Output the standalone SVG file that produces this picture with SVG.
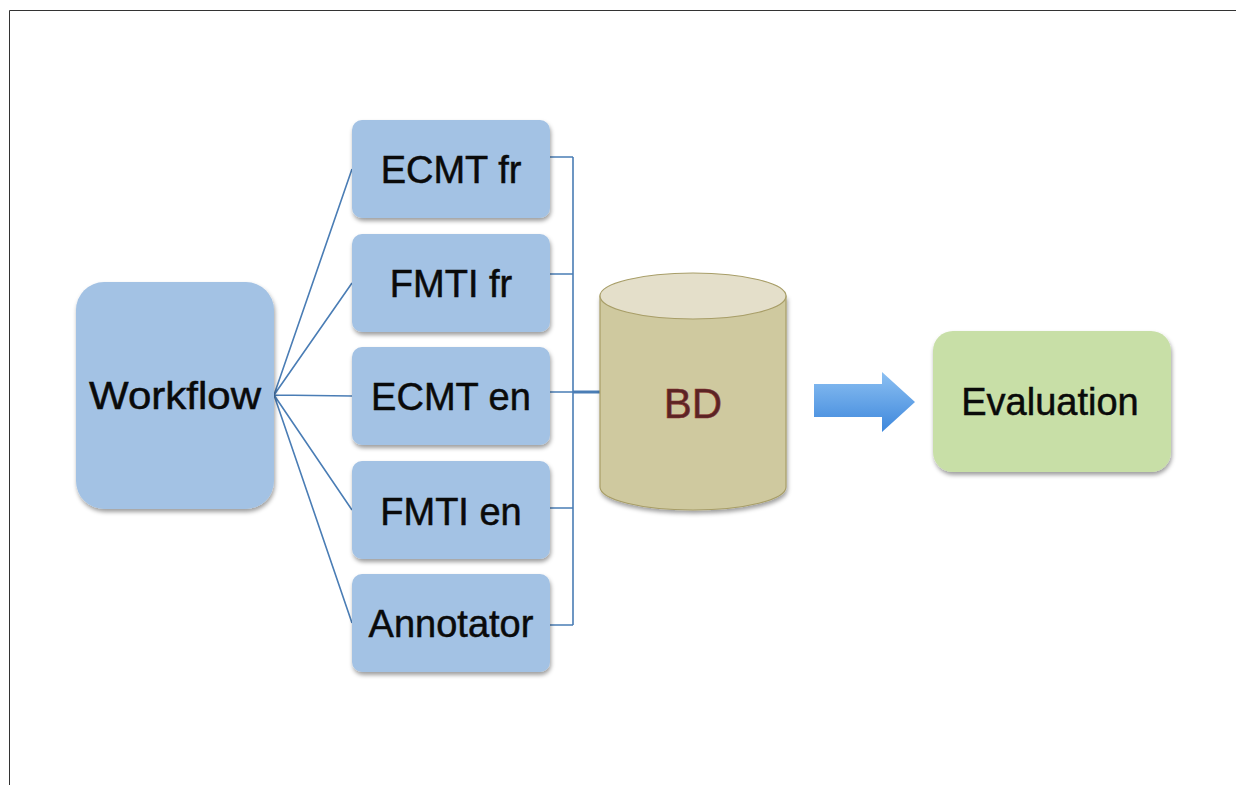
<svg xmlns="http://www.w3.org/2000/svg" width="1236" height="785" viewBox="0 0 1236 785">
  <defs>
    <filter id="sh" x="-10%" y="-10%" width="125%" height="130%">
      <feDropShadow dx="1" dy="3" stdDeviation="2" flood-color="#000" flood-opacity="0.38"/>
    </filter>
    <linearGradient id="arrowGrad" x1="0" y1="0" x2="0" y2="1">
      <stop offset="0" stop-color="#8cc0f2"/>
      <stop offset="1" stop-color="#3d87dc"/>
    </linearGradient>
    <style>
      .box { fill: #a3c2e4; filter: url(#sh); }
      .lbl { font-family: "Liberation Sans", Arial, sans-serif; font-size: 38px; fill: #0a0a0a; stroke: #0a0a0a; stroke-width: 0.5px; text-anchor: middle; }
      .conn { fill: none; stroke: #4a7db5; stroke-width: 1.6; }
    </style>
  </defs>
  <rect x="0" y="0" width="1236" height="785" fill="#fff"/>
  <path d="M9.5 785 V10.5 H1236" fill="none" stroke="#333" stroke-width="1"/>

  <g id="connectors">
    <path class="conn" d="M274 395 L352 169 M274 395 L352 283 M274 395 L352 396 M274 395 L352 510 M274 395 L352 623"/>
    <path class="conn" d="M550 157 H573 M550 274 H573 M550 392 H573 M550 508 H573 M550 625 H573 M573 157 V625"/>
    <path d="M573 392 H600" fill="none" stroke="#4a7db5" stroke-width="3"/>
    <path d="M814 384 H882 V372 L915 402 L882 432 V417 H814 Z" fill="url(#arrowGrad)"/>
  </g>

  <g id="workflow">
    <rect class="box" x="76" y="282" width="198" height="227" rx="28"/>
    <text class="lbl" x="175" y="409" textLength="172" lengthAdjust="spacingAndGlyphs">Workflow</text>
  </g>
  <g id="ecmt-fr">
    <rect class="box" x="352" y="120" width="198" height="98" rx="10"/>
    <text class="lbl" x="451" y="183">ECMT fr</text>
  </g>
  <g id="fmti-fr">
    <rect class="box" x="352" y="234" width="198" height="98" rx="10"/>
    <text class="lbl" x="451" y="297">FMTI fr</text>
  </g>
  <g id="ecmt-en">
    <rect class="box" x="352" y="347" width="198" height="98" rx="10"/>
    <text class="lbl" x="451" y="410">ECMT en</text>
  </g>
  <g id="fmti-en">
    <rect class="box" x="352" y="461" width="198" height="98" rx="10"/>
    <text class="lbl" x="451" y="525">FMTI en</text>
  </g>
  <g id="annotator">
    <rect class="box" x="352" y="574" width="198" height="98" rx="10"/>
    <text class="lbl" x="451" y="637">Annotator</text>
  </g>

  <g id="bd">
    <path d="M600 296 V487 A93 23 0 0 0 786 487 V296 Z" fill="#cfc99f" stroke="#a89e68" stroke-width="1.2" filter="url(#sh)"/>
    <ellipse cx="693" cy="296" rx="93" ry="23" fill="#e4dfca" stroke="#a89e68" stroke-width="1.2"/>
    <text x="693" y="418" font-family="Liberation Sans, Arial, sans-serif" font-size="42" fill="#5a2424" stroke="#8a3030" stroke-width="0.6" text-anchor="middle">BD</text>
  </g>

  <g id="evaluation">
    <rect x="933" y="331" width="238" height="141" rx="20" fill="#c8dfa7" filter="url(#sh)"/>
    <text class="lbl" x="1050" y="415">Evaluation</text>
  </g>
</svg>
